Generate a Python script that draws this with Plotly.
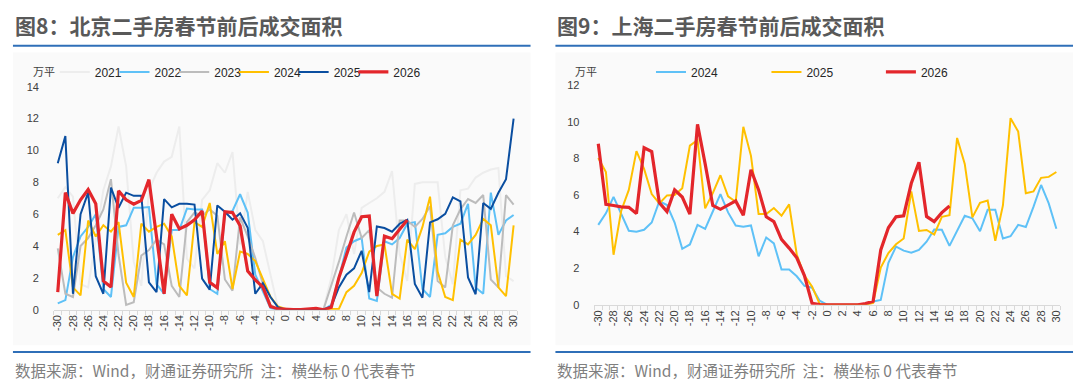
import plotly.graph_objects as go

# ---------------- data ----------------
days = list(range(-30, 31))

bj_2021 = [7.0, 7.7, 7.1, 1.6, 1.4, 4.5, 7.5, 9.0, 11.5, 9.0,
           3.0, 1.5, 7.5, 8.6, 9.3, 9.6, 11.5, 3.2, 2.6, 6.9,
           7.5, 9.2, 8.6, 9.9, 4.1, 7.4, 5.0, 4.3, 2.2, 0.1,
           0, 0, 0, 0, 0, 0.1, 2.0, 5.0, 6.0, 3.5,
           6.4, 6.7, 7.0, 7.4, 8.7, 3.5, 1.8, 7.9, 8.0, 8.0,
           8.0, 3.3, 1.6, 7.5, 7.6, 8.3, 8.6, 8.8, 8.9, 2.1, 1.8]
bj_2022 = [0.4, 0.6, 3.3, 4.6, 5.2, 6.0, 1.3, 0.8, 5.2, 5.3,
           6.4, 6.4, 6.45, 1.6, 1.0, 5.0, 5.0, 6.35, 6.3, 6.3,
           1.3, 1.0, 6.0, 6.2, 7.25, 6.1, 2.2, 1.2, 0.1, 0,
           0, 0, 0, 0, 0, 0, 0.3, 2.0, 3.9, 4.3,
           4.5, 0.7, 0.55, 4.3, 4.1, 4.5, 5.4, 5.5, 1.3, 0.8,
           4.7, 4.8, 5.2, 5.4, 6.65, 1.4, 1.0, 7.35, 4.7, 5.6, 5.95]
bj_2023 = [3.85, 1.0, 0.8, 4.0, 4.5, 5.3, 6.3, 8.2, 3.45, 0.3,
           0.47, 3.4, 3.75, 4.4, 4.1, 1.5, 0.8, 5.5, 6.1, 5.9,
           6.3, 5.9, 1.9, 1.2, 5.8, 4.6, 3.25, 1.6, 0.3, 0,
           0, 0, 0, 0, 0, 0.05, 1.5, 3.0, 4.6, 6.1,
           4.5, 5.0, 1.4, 1.0, 0.75, 5.6, 5.6, 5.2, 5.7, 6.5,
           1.8, 1.4, 5.3, 6.3, 6.95, 6.7, 7.2, 1.9, 1.4, 7.2, 6.6]
bj_2024 = [4.7, 5.0, 1.4, 0.9, 5.6, 4.6, 5.3, 4.9, 5.5, 1.7,
           0.8, 5.4, 4.9, 5.2, 5.4, 4.6, 1.5, 0.9, 5.5, 5.2,
           6.7, 3.5, 4.3, 1.3, 3.65, 3.5, 3.05, 1.9, 0.8, 0.2,
           0.05, 0, 0, 0, 0, 0, 0.05, 0.05, 1.1, 1.5,
           2.3, 3.65, 4.0, 4.1, 1.0, 0.7, 4.4, 3.8, 5.2, 7.1,
           2.4, 0.8, 0.6, 4.4, 4.1, 4.7, 5.7, 5.3, 1.4, 0.85, 5.3]
bj_2025 = [9.2, 10.9, 1.0, 6.0, 7.35, 2.1, 1.0, 7.67, 6.4, 7.35,
           7.15, 7.16, 1.72, 1.1, 6.94, 6.43, 6.65, 6.65, 6.6, 1.95,
           1.26, 6.55, 6.15, 5.65, 6.05, 5.15, 1.0, 1.67, 0.8, 0.15,
           0, 0, 0, 0, 0, 0, 0.2, 1.4, 2.2, 2.6,
           3.7, 1.1, 5.23, 5.13, 4.9, 5.4, 5.64, 1.62, 0.75, 5.48,
           5.68, 6.02, 7.06, 6.8, 2.03, 0.97, 6.7, 6.33, 7.34, 8.2, 12.0]
bj_2026 = [1.1, 7.35, 6.05, 6.9, 7.55, 6.65, 1.8, 1.42, 7.46, 6.9,
           6.63, 6.86, 8.17, 4.6, 1.0, 6.0, 5.07, 5.3, 5.64, 6.2,
           1.72, 1.38, 6.15, 6.1, 5.27, 2.43, 1.87, 1.42, 0.2, 0.05,
           0, 0, 0, 0.02, 0.08, 0, 0.15, 2.0, 3.45, 4.87,
           5.84, 5.88, 0.85, 4.62, 4.46, 5.03, 5.64]

sh_2024 = [4.37, 5.0, 5.9, 5.0, 4.05, 4.0, 4.1, 4.5, 5.66, 5.45,
           4.5, 3.06, 3.3, 4.37, 4.15, 5.1, 6.05, 5.05, 4.33, 4.27,
           4.34, 2.65, 3.68, 3.36, 1.93, 1.93, 1.56, 1.04, 0.94, 0.23,
           0, 0, 0, 0, 0, 0, 0.18, 0.27, 2.3, 3.18,
           2.96, 2.85, 3.0, 3.45, 4.12, 4.1, 3.22, 4.03, 4.87, 4.73,
           4.02, 5.19, 5.19, 3.63, 3.75, 4.37, 4.25, 5.35, 6.55, 5.54, 4.16]
sh_2025 = [8.02, 7.26, 2.74, 5.13, 6.28, 8.4, 7.43, 6.05, 5.54, 5.98,
           6.0, 6.37, 8.7, 9.0, 5.27, 6.1, 7.08, 5.93, 5.63, 9.73,
           8.14, 4.96, 4.96, 5.29, 4.87, 5.49, 2.74, 1.6, 1.0, 0.05,
           0, 0, 0, 0, 0, 0, 0.1, 2.04, 2.83, 3.31,
           3.63, 6.2, 4.04, 4.09, 3.84, 4.81, 4.9, 9.12, 7.7, 4.78,
           5.58, 5.7, 3.5, 5.43, 10.2, 9.47, 6.1, 6.2, 6.94, 6.99, 7.26]
sh_2026 = [8.8, 5.49, 5.43, 5.35, 5.33, 4.99, 8.58, 8.37, 5.58, 5.1,
           6.28, 5.89, 4.96, 9.86, 7.7, 5.43, 5.22, 5.43, 5.68, 4.9,
           7.38, 6.28, 4.81, 4.55, 3.58, 3.1, 2.57, 1.6, 0.09, 0.02,
           0, 0, 0, 0, 0, 0.07, 0.2, 3.0, 4.21, 4.81,
           4.87, 6.64, 7.79, 4.83, 4.55, 5.04, 5.4]

bj_series = [("2021", bj_2021), ("2022", bj_2022), ("2023", bj_2023),
             ("2024", bj_2024), ("2025", bj_2025), ("2026", bj_2026)]
sh_series = [("2024", sh_2024), ("2025", sh_2025), ("2026", sh_2026)]

bj_colors = {"2021": "#ededed", "2022": "#5ec1f7", "2023": "#bcbcbc",
             "2024": "#ffc000", "2025": "#0a4ea0", "2026": "#e3262b"}
sh_colors = {"2024": "#5ec1f7", "2025": "#ffc000", "2026": "#e3262b"}
thin, thick = 2, 3.2

x_ticks = list(range(-30, 31, 2))
title_left = "图8：北京二手房春节前后成交面积"
title_right = "图9：上海二手房春节前后成交面积"
source_text = "数据来源：Wind，财通证券研究所  注：横坐标 0 代表春节"
unit_text = "万平"

# legend line-start pixel positions (layout only)
bj_legend_px = [60, 120, 180, 240, 300, 360]
sh_legend_px = [659, 775, 890]

# ---------------- figure ----------------
W, H = 1080, 392
fig = go.Figure()
legend_font = dict(family="Liberation Sans, Arial, sans-serif", size=12, color="#262626")
legends = {}
k = 0

for (name, vals), px in zip(bj_series, bj_legend_px):
    k += 1
    lid = "legend" if k == 1 else f"legend{k}"
    fig.add_trace(go.Scatter(
        x=days[:len(vals)], y=vals, mode="lines", name=name,
        line=dict(color=bj_colors[name], width=thick if name == "2026" else thin),
        xaxis="x", yaxis="y", legend=lid, hoverinfo="skip"))
    legends[lid] = px

for (name, vals), px in zip(sh_series, sh_legend_px):
    k += 1
    lid = f"legend{k}"
    fig.add_trace(go.Scatter(
        x=days[:len(vals)], y=vals, mode="lines", name=name,
        line=dict(color=sh_colors[name], width=thick if name == "2026" else thin),
        xaxis="x2", yaxis="y2", legend=lid, hoverinfo="skip"))
    legends[lid] = px

for lid, px in legends.items():
    fig.update_layout({lid: dict(orientation="h", x=(px - 8) / W, y=(H - 68) / H,
                                 xanchor="left", yanchor="middle", itemwidth=30,
                                 font=legend_font, bgcolor="rgba(0,0,0,0)", borderwidth=0,
                                 itemclick=False, itemdoubleclick=False)})

tick_font = dict(family="Liberation Sans, Arial, sans-serif", size=11, color="#404040")


def xaxis_cfg(domain, anchor):
    return dict(domain=domain, anchor=anchor, range=[-30.5, 30.5],
                tickmode="array", tickvals=x_ticks, ticktext=[str(t) for t in x_ticks],
                tickangle=-90, tickfont=tick_font, showgrid=False, zeroline=False,
                showline=True, linecolor="#d9d9d9", linewidth=1, ticks="",
                minor=dict(tickmode="linear", tick0=-30.5, dtick=1, ticks="outside",
                           ticklen=4, tickcolor="#d9d9d9", tickwidth=1, showgrid=False),
                fixedrange=True)


def yaxis_cfg(domain, anchor, rng, dtick):
    return dict(domain=domain, anchor=anchor, range=rng, dtick=dtick, tick0=0,
                tickfont=tick_font, showgrid=False, zeroline=False, showline=False,
                ticks="", ticklabelstandoff=14, fixedrange=True)


fig.update_layout(
    width=W, height=H, autosize=False,
    margin=dict(l=0, r=0, t=0, b=0, pad=0),
    paper_bgcolor="white", plot_bgcolor="rgba(0,0,0,0)",
    showlegend=True,
    xaxis=xaxis_cfg([51.2 / W, 516.8 / W], "y"),
    yaxis=yaxis_cfg([(H - 313.3) / H, (H - 83.3) / H], "x", [0, 14], 2),
    xaxis2=xaxis_cfg([594.2 / W, 1062.1 / W], "y2"),
    yaxis2=yaxis_cfg([(H - 308.3) / H, (H - 81.7) / H], "x2", [0, 12], 2),
)

shapes = []
for x0, x1 in [(10, 530), (555, 1075)]:
    shapes.append(dict(type="rect", xref="paper", yref="paper", x0=x0 / W, x1=x1 / W,
                       y0=(H - 350) / H, y1=(H - 48) / H, fillcolor="#fafafa",
                       line=dict(width=0), layer="below"))
    for yy in (41, 357):
        shapes.append(dict(type="line", xref="paper", yref="paper", x0=x0 / W, x1=x1 / W,
                           y0=(H - yy) / H, y1=(H - yy) / H,
                           line=dict(color="#2f6fb8", width=2)))
fig.update_layout(shapes=shapes)

ann = []
cjk = "Noto Sans CJK SC, sans-serif"
for txt, xx in ((title_left, 10), (title_right, 555)):
    ann.append(dict(text=f"<b>{txt}</b>", x=xx / W, y=(H - 20) / H, xref="paper", yref="paper",
                    xanchor="left", yanchor="middle", showarrow=False,
                    font=dict(family=cjk, size=21, color="#595959")))
for xx in (10, 555):
    ann.append(dict(text=source_text, x=xx / W, y=(H - 375) / H, xref="paper", yref="paper",
                    xanchor="left", yanchor="middle", showarrow=False,
                    font=dict(family=cjk, size=15.5, color="#7f7f7f")))
for xx in (28, 573):
    ann.append(dict(text=unit_text, x=xx / W, y=(H - 67) / H, xref="paper", yref="paper",
                    xanchor="left", yanchor="middle", showarrow=False,
                    font=dict(family=cjk, size=11, color="#404040")))
fig.update_layout(annotations=ann)

fig.write_html("out.html", config={"displayModeBar": False},
               post_script="document.body.style.margin='0';document.body.style.overflow='hidden';")
